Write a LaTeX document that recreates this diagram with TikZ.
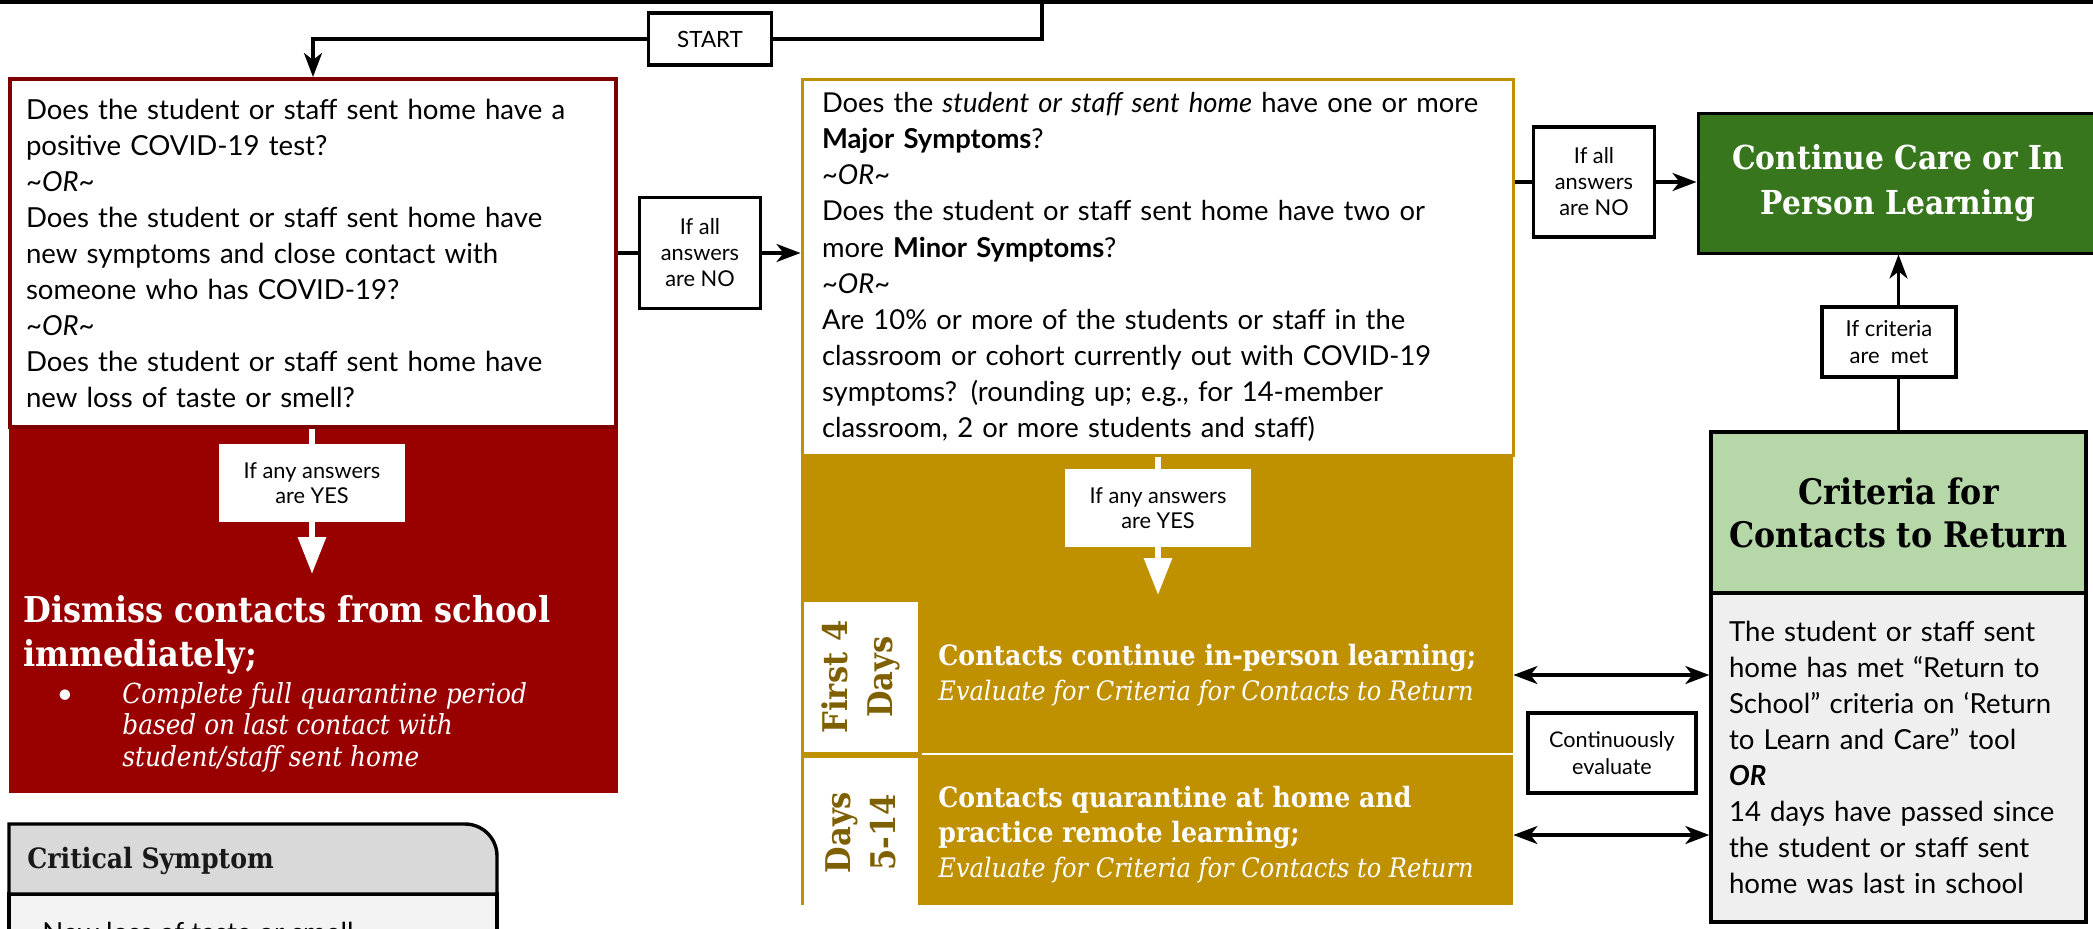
\documentclass[tikz,border=0pt]{standalone}
\usepackage{fontspec}
\setmainfont{Lato}
\newfontfamily\slabfont{DejaVu Serif Condensed}
\usetikzlibrary{positioning}
\usetikzlibrary{arrows.meta}

\definecolor{redFill}{HTML}{990000}
\definecolor{redLine}{HTML}{7F0000}
\definecolor{goldFill}{HTML}{BF9000}
\definecolor{goldText}{HTML}{7F6000}
\definecolor{greenFill}{HTML}{38761D}
\definecolor{greenLight}{HTML}{B6D7A8}
\definecolor{grayBody}{HTML}{EFEFEF}
\definecolor{grayHead}{HTML}{D9D9D9}
\definecolor{grayLight}{HTML}{F3F3F3}

\newcommand{\contHead}[1]{{\bfseries\fontsize{14pt}{17.75pt}\selectfont #1}}

\begin{document}
\begin{tikzpicture}[x=0.5pt, y=-0.5pt,
    lineSeg/.style={draw, line width=1.7pt},
    flowArrow/.style={lineSeg, -{Stealth[length=12pt, width=9pt, inset=3.5pt]}},
    twoWay/.style={lineSeg, {Stealth[length=12pt, width=9pt, inset=3.5pt]}-{Stealth[length=12pt, width=9pt, inset=3.5pt]}},
    whiteArrow/.style={draw=white, line width=3pt, -{Triangle[length=18.5pt, width=13.5pt]}},
    tagBox/.style={draw, line width=1.7pt, fill=white, align=center, inner sep=0pt, font=\fontsize{10.9pt}{13pt}\selectfont},
    yesBox/.style={fill=white, align=center, inner sep=0pt, minimum width=93pt, minimum height=39pt, font=\fontsize{10.9pt}{12.5pt}\selectfont},
    questionBox/.style={fill=white, line width=2pt, align=left, inner sep=0pt, inner xsep=8pt, font=\fontsize{13.8pt}{18pt}\selectfont},
    dayBox/.style={fill=white, rotate=90, inner sep=0pt, align=center, minimum height=57pt, text=goldText, font=\slabfont\bfseries\fontsize{17pt}{22.5pt}\selectfont},
    zone/.style={inner sep=0pt},
    slabHead/.style={inner sep=0pt, align=left, font=\slabfont\bfseries\fontsize{17.8pt}{22pt}\selectfont},
  ]
    \useasboundingbox (0,0) rectangle (2093,928);

    % entry from above
    \coordinate (edge_w) at (0,2);
    \coordinate (edge_e) at (2093,2);
    \coordinate (edge_drop) at (1042,2);
    \node[tagBox, minimum width=61.5pt, minimum height=26pt, font=\fontsize{11.2pt}{13pt}\selectfont] (start) at (710,39) {START};

    % red column
    \node[zone, fill=redFill, minimum width=304.5pt, minimum height=357pt] (red_zone) at (313.5,436) {};
    \node[questionBox, draw=redLine, text width=287pt, minimum height=174pt] (q_red) at (313,253) {Does the student or staff sent home have a\\
      positive COVID-19 test?\\
      \textit{\textasciitilde OR\textasciitilde}\\
      Does the student or staff sent home have\\
      new symptoms and close contact with\\
      someone who has COVID-19?\\
      \textit{\textasciitilde OR\textasciitilde}\\
      Does the student or staff sent home have\\
      new loss of taste or smell?};
    \node[yesBox] (yes_red) at (312,483) {If any answers\\are YES};
    \coordinate (red_tip) at (312,574);
    \node[slabHead, anchor=west, text=white] (dismiss) at (23,635) {Dismiss contacts from school\\immediately;};
    \node[inner sep=0pt, text=white, font=\fontsize{14pt}{15pt}\selectfont] (dismiss_dot) at (65,697) {\textbullet};
    \node[inner sep=0pt, anchor=west, align=left, text=white, font=\slabfont\itshape\fontsize{13.8pt}{15.75pt}\selectfont] (dismiss_note) at (122,727) {Complete full quarantine period\\based on last contact with\\student/staff sent home};

    \node[tagBox, minimum width=60.5pt, minimum height=55.5pt] (no_left) at (700,253) {If all\\answers\\are NO};

    % gold column
    \node[zone, fill=goldFill, minimum width=356pt, minimum height=413pt] (yellow_zone) at (1157,492) {};
    \node[questionBox, draw=goldFill, line width=1.5pt, inner xsep=10pt, text width=335.5pt, minimum height=188pt, font=\fontsize{13.7pt}{18.05pt}\selectfont] (q_yellow) at (1157.5,267) {Does the \textit{student or staff sent home} have one or more\\
      \textbf{Major Symptoms}?\\
      \textit{\textasciitilde OR\textasciitilde}\\
      Does the student or staff sent home have two or\\
      more \textbf{Minor Symptoms}?\\
      \textit{\textasciitilde OR\textasciitilde}\\
      Are 10\% or more of the students or staff in the\\
      classroom or cohort currently out with COVID-19\\
      symptoms? (rounding up; e.g., for 14-member\\
      classroom, 2 or more students and staff)};
    \node[yesBox] (yes_gold) at (1158,508) {If any answers\\are YES};
    \coordinate (gold_tip) at (1158,595);

    \node[dayBox, minimum width=75pt] (days_a) at (861,677) {First 4\\Days};
    \node[dayBox, minimum width=74.5pt] (days_b) at (861,832.5) {Days\\5-14};
    \draw[white, line width=1pt] (922,754) -- (1513,754);

    \node[inner sep=0pt, anchor=west, align=left, text=white, font=\slabfont\fontsize{13.4pt}{17.5pt}\selectfont] (cont_a) at (938,675) {\contHead{Contacts continue in-person learning;}\\
      \textit{Evaluate for Criteria for Contacts to Return}};
    \node[inner sep=0pt, anchor=west, align=left, text=white, font=\slabfont\fontsize{13.4pt}{17.5pt}\selectfont] (cont_b) at (938,835) {\contHead{Contacts quarantine at home and}\\
      \contHead{practice remote learning;}\\
      \textit{Evaluate for Criteria for Contacts to Return}};

    \node[tagBox, minimum width=60.5pt, minimum height=55pt] (no_right) at (1594,182) {If all\\answers\\are NO};

    % green column
    \node[draw, line width=1.5pt, fill=greenFill, text=white, align=center, inner sep=0pt, minimum width=200pt, minimum height=70pt, font=\slabfont\bfseries\fontsize{16.5pt}{22.5pt}\selectfont] (green) at (1898,183) {Continue Care or In\\Person Learning};
    \node[tagBox, minimum width=67pt, minimum height=35pt, font=\fontsize{11pt}{13.5pt}\selectfont] (crit_met) at (1889,342) {If criteria\\are\ \ met};
    \node[draw, line width=1.7pt, fill=greenLight, align=center, inner sep=0pt, minimum width=187.5pt, minimum height=80.5pt, font=\slabfont\bfseries\fontsize{17.6pt}{21.5pt}\selectfont] (crit_head) at (1898.5,512.5) {Criteria for\\Contacts to Return};
    \node[draw, line width=1.7pt, fill=grayBody, align=left, inner sep=0pt, inner xsep=9pt, text width=169.5pt, minimum height=164.5pt, font=\fontsize{13.8pt}{18pt}\selectfont] (crit_body) at (1898.5,757.5) {The student or staff sent\\
      home has met “Return to\\
      School” criteria on ‘Return\\
      to Learn and Care” tool\\
      \textbf{\textit{OR}}\\
      14 days have passed since\\
      the student or staff sent\\
      home was last in school};
    \node[tagBox, minimum width=84pt, minimum height=40pt, font=\fontsize{10.8pt}{13.5pt}\selectfont] (eval) at (1612,753) {Continuously\\evaluate};

    % critical symptom card
    \filldraw[fill=grayLight, line width=1.7pt] (9,1000) -- (9,894) -- (497,894) -- (497,1000);
    \filldraw[fill=grayHead, line width=1.7pt] (9,894) -- (9,824) -- (465,824) arc[start angle=90, end angle=0, radius=16pt] -- (497,894) -- cycle;
    \node[inner sep=0pt, anchor=west, text=black!90, font=\slabfont\bfseries\fontsize{14pt}{17pt}\selectfont] (crit_title) at (27,861) {Critical Symptom};
    \node[inner sep=0pt, anchor=base west, font=\fontsize{13.8pt}{17pt}\selectfont] (crit_item) at (42,942) {New loss of taste or smell};

    % connectors
    \draw[lineSeg] (edge_w) -- (edge_e);
    \draw[lineSeg] (edge_drop) |- (start);
    \draw[flowArrow] (start) -| (q_red);
    \draw[white, line width=3pt] (q_red.south -| yes_red) -- (yes_red);
    \draw[whiteArrow] (yes_red) -- (red_tip);
    \draw[lineSeg] (q_red) -- (no_left);
    \draw[flowArrow] (no_left) -- (no_left -| q_yellow.west);
    \draw[white, line width=3pt] (q_yellow.south -| yes_gold) -- (yes_gold);
    \draw[whiteArrow] (yes_gold) -- (gold_tip);
    \draw[lineSeg] (q_yellow.east |- no_right) -- (no_right);
    \draw[flowArrow] (no_right) -- (no_right -| green.west);
    \draw[lineSeg] (crit_head.north) -- (crit_head.north |- crit_met.south);
    \draw[flowArrow] (crit_head.north |- crit_met.north) -- (crit_head.north |- green.south);
    \draw[twoWay] (yellow_zone.east |- cont_a) -- (crit_body.west |- cont_a);
    \draw[twoWay] (yellow_zone.east |- cont_b) -- (crit_body.west |- cont_b);
\end{tikzpicture}
\end{document}
